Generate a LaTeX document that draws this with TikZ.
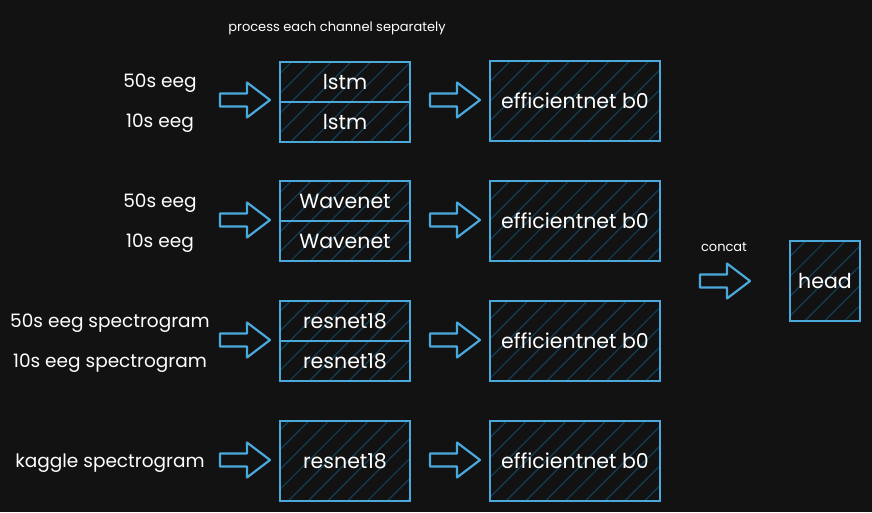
\documentclass[tikz,border=0pt]{standalone}
\usepackage{fontspec}
\setmainfont{Poppins}
\usepackage{tikz}
\usetikzlibrary{backgrounds,patterns.meta}
\definecolor{bgdark}{HTML}{121212}
\definecolor{skblue}{HTML}{4AA8DA}
\definecolor{hatchblue}{HTML}{123F55}

\begin{document}
\begin{tikzpicture}[x=1pt,y=-1pt,
  box/.style={draw=skblue,line width=2.2pt,text=white,inner sep=0pt,
    pattern={Lines[angle=45,distance=14pt,line width=1.2pt]},pattern color=hatchblue,
    font=\fontsize{20.5}{22}\selectfont},
  half/.style={box,minimum width=130pt,minimum height=40pt},
  full/.style={box,minimum width=130pt,minimum height=80pt},
  effnet/.style={box,minimum width=170pt,minimum height=80pt},
  lbl/.style={text=white,font=\fontsize{18.5}{20}\selectfont},
  small/.style={text=white,font=\fontsize{13}{15}\selectfont},
  blockarr/.pic={\draw[skblue,line width=2.2pt,line join=round]
    (0,-6.5) -- (27,-6.5) -- (27,-17.5) -- (50,0) -- (27,17.5) -- (27,6.5) -- (0,6.5) -- cycle;}]
\useasboundingbox[fill=bgdark] (0,0) rectangle (872,512);

\node[small] (title) at (337,28) {process each channel separately};

\node[lbl] (inA1) at (160,83) {50s eeg};
\node[lbl] (inA2) at (160,123) {10s eeg};
\pic (arA) at (220,100) {blockarr};
\node[half] (lstmA) at (345,82) {lstm};
\node[half] (lstmB) at (345,122) {lstm};
\pic (arA2) at (430,100) {blockarr};
\node[effnet] (effA) at (575,101) {efficientnet b0};

\node[lbl] (inB1) at (160,203) {50s eeg};
\node[lbl] (inB2) at (160,243) {10s eeg};
\pic (arB) at (220,220) {blockarr};
\node[half] (waveA) at (345,201) {Wavenet};
\node[half] (waveB) at (345,241) {Wavenet};
\pic (arB2) at (430,220) {blockarr};
\node[effnet] (effB) at (575,221) {efficientnet b0};

\node[lbl] (inC1) at (110,323) {50s eeg spectrogram};
\node[lbl] (inC2) at (110,363) {10s eeg spectrogram};
\pic (arC) at (220,340) {blockarr};
\node[half] (resA) at (345,321) {resnet18};
\node[half] (resB) at (345,361) {resnet18};
\pic (arC2) at (430,340) {blockarr};
\node[effnet] (effC) at (575,341) {efficientnet b0};

\node[lbl] (inD) at (110,463) {kaggle spectrogram};
\pic (arD) at (220,460) {blockarr};
\node[full] (resK) at (345,461) {resnet18};
\pic (arD2) at (430,460) {blockarr};
\node[effnet] (effD) at (575,461) {efficientnet b0};

\node[small] (concat) at (724,247) {concat};
\pic (arE) at (700,281) {blockarr};
\node[box,minimum width=70pt,minimum height=80pt] (head) at (825,281) {head};
\end{tikzpicture}
\end{document}
